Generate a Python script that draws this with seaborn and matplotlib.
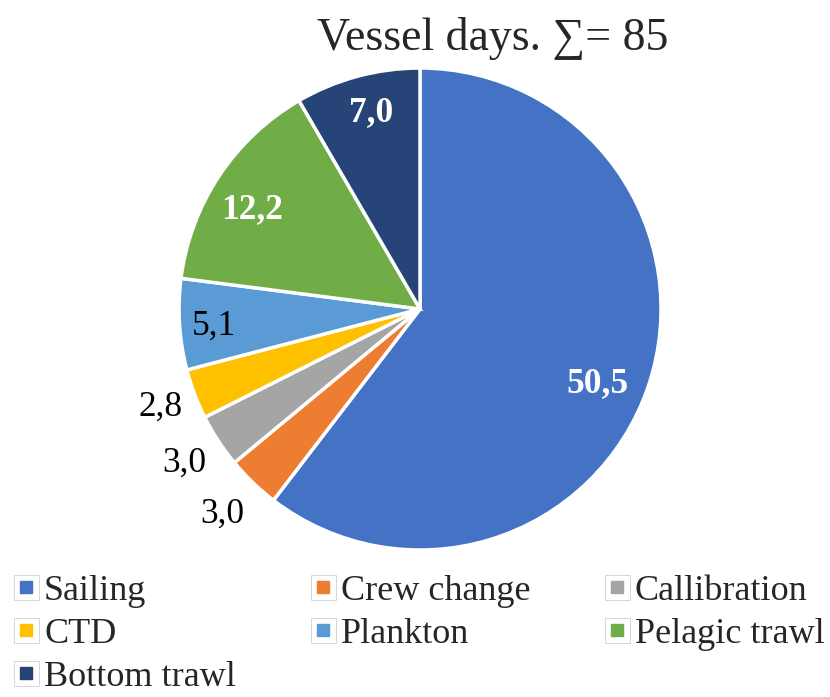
import matplotlib
matplotlib.use("Agg")
import matplotlib.pyplot as plt
from matplotlib.lines import Line2D
import numpy as np
import seaborn as sns

# data
categories = ["Sailing", "Crew change", "Callibration", "CTD", "Plankton", "Pelagic trawl", "Bottom trawl"]
days = [50.5, 3.0, 3.0, 2.8, 5.1, 12.2, 7.0]
labels = ["50,5", "3,0", "3,0", "2,8", "5,1", "12,2", "7,0"]
colors = ["#4472C4", "#ED7D31", "#A5A5A5", "#FFC000", "#5B9BD5", "#70AD47", "#264478"]

sns.set_style("white")
plt.rcParams['font.family'] = ['Liberation Serif', 'DejaVu Serif']

fig = plt.figure(figsize=(8.3, 6.97), dpi=100)
ax = fig.add_axes([0.2157, 0.2109, 0.5807, 0.6915])

wedges, _ = ax.pie(days, colors=colors, startangle=90, counterclock=False,
                   radius=1, wedgeprops=dict(edgecolor="white", linewidth=2.5))
ax.set_xlim(-1.0, 1.0)
ax.set_ylim(-1.0, 1.0)
ax.set_aspect("equal")
ax.axis("off")

# label placement per slice (distance from centre, small angle nudge)
dist = [0.80, 1.18, 1.17, 1.15, 0.86, 0.81, 0.84]
nudge = [-4, 0, 0, 0, 1, 3, -1]
txt_col = ["white", "black", "black", "black", "black", "white", "white"]
weights = ["bold", "normal", "normal", "normal", "normal", "bold", "bold"]
for w, lab, d, dn, c, fw in zip(wedges, labels, dist, nudge, txt_col, weights):
    ang = np.deg2rad((w.theta1 + w.theta2) / 2 + dn)
    ax.text(d * np.cos(ang), d * np.sin(ang), lab, ha="center", va="center",
            fontsize=25.5, color=c, fontweight=fw)

fig.text(0.593, 0.945, "Vessel days. \u2211= 85", ha="center", va="center", fontsize=33)

# legend, row-wise order for 3 columns
order = [0, 3, 6, 1, 4, 2, 5]
handles = []
for i in order:
    box = Line2D([], [], marker="s", linestyle="", markersize=18,
                 markerfacecolor="white", markeredgecolor="#d6d6d6", markeredgewidth=0.7)
    sq = Line2D([], [], marker="s", linestyle="", markersize=9,
                markerfacecolor=colors[i], markeredgecolor=colors[i])
    handles.append((box, sq))
fig.legend(handles, [categories[i] for i in order], ncol=3, loc="upper left",
           bbox_to_anchor=(0.0096, 0.176), frameon=False, fontsize=26,
           handlelength=1.0, handletextpad=0.0, columnspacing=1.9, labelspacing=0.27,
           borderaxespad=0.0, borderpad=0.0)

fig.savefig("out.png", dpi=100)
